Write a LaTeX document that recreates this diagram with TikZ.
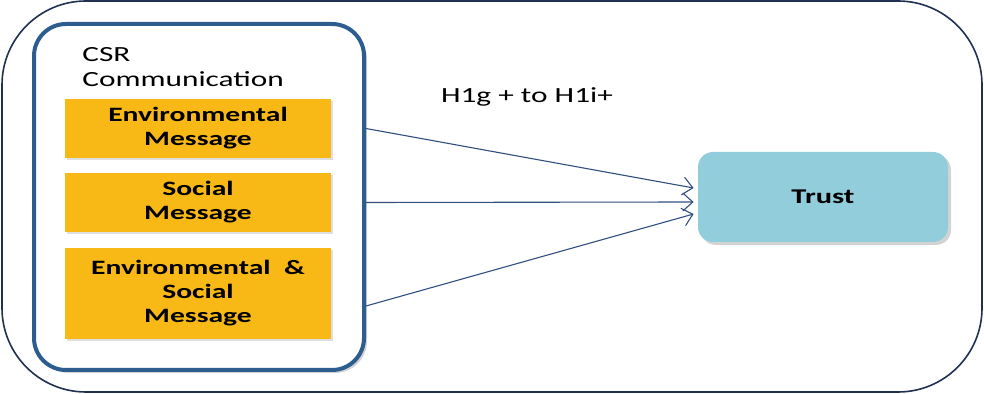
\documentclass[tikz,border=0pt]{standalone}
\usepackage{fontspec}
\setmainfont{Carlito}[FakeStretch=1.45]
\usetikzlibrary{shapes.geometric, arrows.meta, shadows}
\definecolor{framecol}{HTML}{1F3050}
\definecolor{csrblue}{HTML}{2C5D8E}
\definecolor{msgyellow}{HTML}{F8B816}
\definecolor{trustblue}{HTML}{92CDDC}
\definecolor{arrowcol}{HTML}{2F4F7F}
\tikzstyle{frame} = [rectangle, rounded corners=42pt, minimum width=490pt, minimum height=195.5pt, draw=framecol, line width=0.8pt]
\tikzstyle{csrbox} = [rectangle, rounded corners=16pt, minimum width=165pt, minimum height=173pt, draw=csrblue, line width=2pt, fill=white, drop shadow={opacity=0.35, shadow xshift=1.5pt, shadow yshift=-1.5pt}]
\tikzstyle{message} = [rectangle, minimum width=133pt, inner sep=0pt, text centered, align=center, fill=msgyellow, font=\bfseries\fontsize{10.2}{12}\selectfont, drop shadow={opacity=0.25, shadow xshift=1pt, shadow yshift=-1pt}]
\tikzstyle{trustbox} = [rectangle, rounded corners=7.5pt, minimum width=125pt, minimum height=45pt, text centered, fill=trustblue, font=\bfseries\fontsize{10.5}{12}\selectfont, drop shadow={opacity=0.35, shadow xshift=1.5pt, shadow yshift=-1.5pt}]
\tikzstyle{arrow} = [draw=arrowcol, line width=0.55pt, -{Straight Barb[length=5pt,width=9pt]}]

\begin{document}
\begin{tikzpicture}[x=0.5pt, y=-0.5pt]
    \useasboundingbox (0,0) rectangle (984,394);
    % Place nodes
    \node (frame) [frame] at (492,196.5) {};
    \node (csr) [csrbox] at (199,197) {};
    \node (title) [anchor=north west, align=left, inner sep=0pt, font=\fontsize{10.8}{12.5}\selectfont] at (82,47) {CSR\\Communication};
    \node (env) [message, minimum height=29.5pt] at (198,128.5) {Environmental\\Message};
    \node (soc) [message, minimum height=29.5pt] at (198,202.5) {Social\\Message};
    \node (both) [message, minimum height=45.5pt] at (198,293.5) {Environmental~~\&\\Social\\Message};
    \node (trust) [trustbox] at (823,197) {Trust};
    \node (hyp) [font=\fontsize{10.8}{12.5}\selectfont] at (527,97) {H1g + to H1i+};

    % Connect nodes with arrows
    \draw [arrow] (env.east -| csr.east) -- ([xshift=-2pt, yshift=4.5pt]trust.west);
    \draw [arrow] (soc.east -| csr.east) -- ([xshift=-2pt, yshift=-2.5pt]trust.west);
    \draw [arrow] ([yshift=-6.25pt]both.east -| csr.east) -- ([xshift=-2pt, yshift=-8.5pt]trust.west);
\end{tikzpicture}
\end{document}
